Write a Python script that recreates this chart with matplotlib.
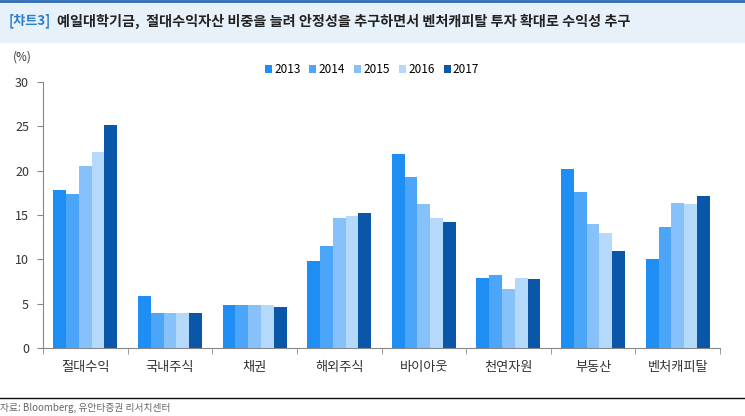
import numpy as np
import matplotlib
matplotlib.use("Agg")
import matplotlib.pyplot as plt
from matplotlib.patches import Rectangle
from matplotlib.lines import Line2D

plt.rcParams['font.family'] = ['Noto Sans CJK KR', 'DejaVu Sans']

# data (%)
categories = ['절대수익', '국내주식', '채권', '해외주식', '바이아웃', '천연자원', '부동산', '벤처캐피탈']
years = ['2013', '2014', '2015', '2016', '2017']
v2013 = [17.8, 5.9, 4.9, 9.8, 21.9, 7.9, 20.2, 10.0]
v2014 = [17.4, 3.9, 4.9, 11.5, 19.3, 8.2, 17.6, 13.7]
v2015 = [20.5, 3.9, 4.9, 14.7, 16.2, 6.7, 14.0, 16.3]
v2016 = [22.1, 4.0, 4.9, 14.9, 14.7, 7.9, 13.0, 16.2]
v2017 = [25.1, 3.9, 4.6, 15.2, 14.2, 7.8, 10.9, 17.1]
series = [v2013, v2014, v2015, v2016, v2017]
colors = ['#1E8EF5', '#4BA5F8', '#86C1FA', '#B5D9FB', '#0A56A8']

fig = plt.figure(figsize=(7.45, 4.16), dpi=100)

# header band + top rule
fig.patches.append(Rectangle((0, 1 - 43 / 416), 1, 40 / 416, transform=fig.transFigure,
                             facecolor='#E6F1FA', edgecolor='none', zorder=0))
fig.add_artist(Line2D([0, 1], [1 - 1 / 416, 1 - 1 / 416], color='#2A6BB5', lw=2))
fig.text(0.011, 1 - 21 / 416, '[챠트3]', color='#2D7FC8', fontsize=9.5, fontweight='bold', va='center')
fig.text(0.077, 1 - 21 / 416, '예일대학기금,  절대수익자산 비중을 늘려 안정성을 추구하면서 벤처캐피탈 투자 확대로 수익성 추구',
         color='#222222', fontsize=10.2, fontweight='bold', va='center')

ax = fig.add_axes([43 / 745, 1 - 348 / 416, 677 / 745, 266 / 416])
x = np.arange(len(categories))
w = 0.151
for i, (vals, yr) in enumerate(zip(series, years)):
    ax.bar(x + (i - 2) * w, vals, width=w, color=colors[i], label=yr, zorder=2)

ax.set_xlim(-0.5, len(categories) - 0.5)
ax.set_ylim(0, 30)
ax.set_yticks(np.arange(0, 31, 5))
ax.set_xticks(x)
ax.set_xticklabels(categories, fontsize=9.5, color='#333333')
ax.set_xticks(np.arange(-0.5, len(categories), 1), minor=True)
ax.tick_params(axis='x', which='major', length=0, pad=9)
ax.tick_params(axis='x', which='minor', length=4, color='#888888', direction='out')
ax.tick_params(axis='y', length=4, color='#888888', labelsize=9, labelcolor='#333333', pad=6)
for s in ['top', 'right']:
    ax.spines[s].set_visible(False)
for s in ['left', 'bottom']:
    ax.spines[s].set_color('#888888')
ax.text(-0.03, 1.08, '(%)', transform=ax.transAxes, fontsize=8.5, color='#333333', ha='center')

ax.legend(loc='upper center', bbox_to_anchor=(0.486, 1.11), ncol=5, frameon=False, fontsize=8.5,
          handlelength=0.6, handleheight=0.6, handletextpad=0.2, columnspacing=0.75)

# footer
fig.add_artist(Line2D([0, 1], [1 - 398 / 416, 1 - 398 / 416], color='#111111', lw=1))
fig.text(0.0, 1 - 408 / 416, '자료: Bloomberg, 유안타증권 리서치센터', color='#666666', fontsize=7, va='center')

fig.savefig('out.png', dpi=100)
